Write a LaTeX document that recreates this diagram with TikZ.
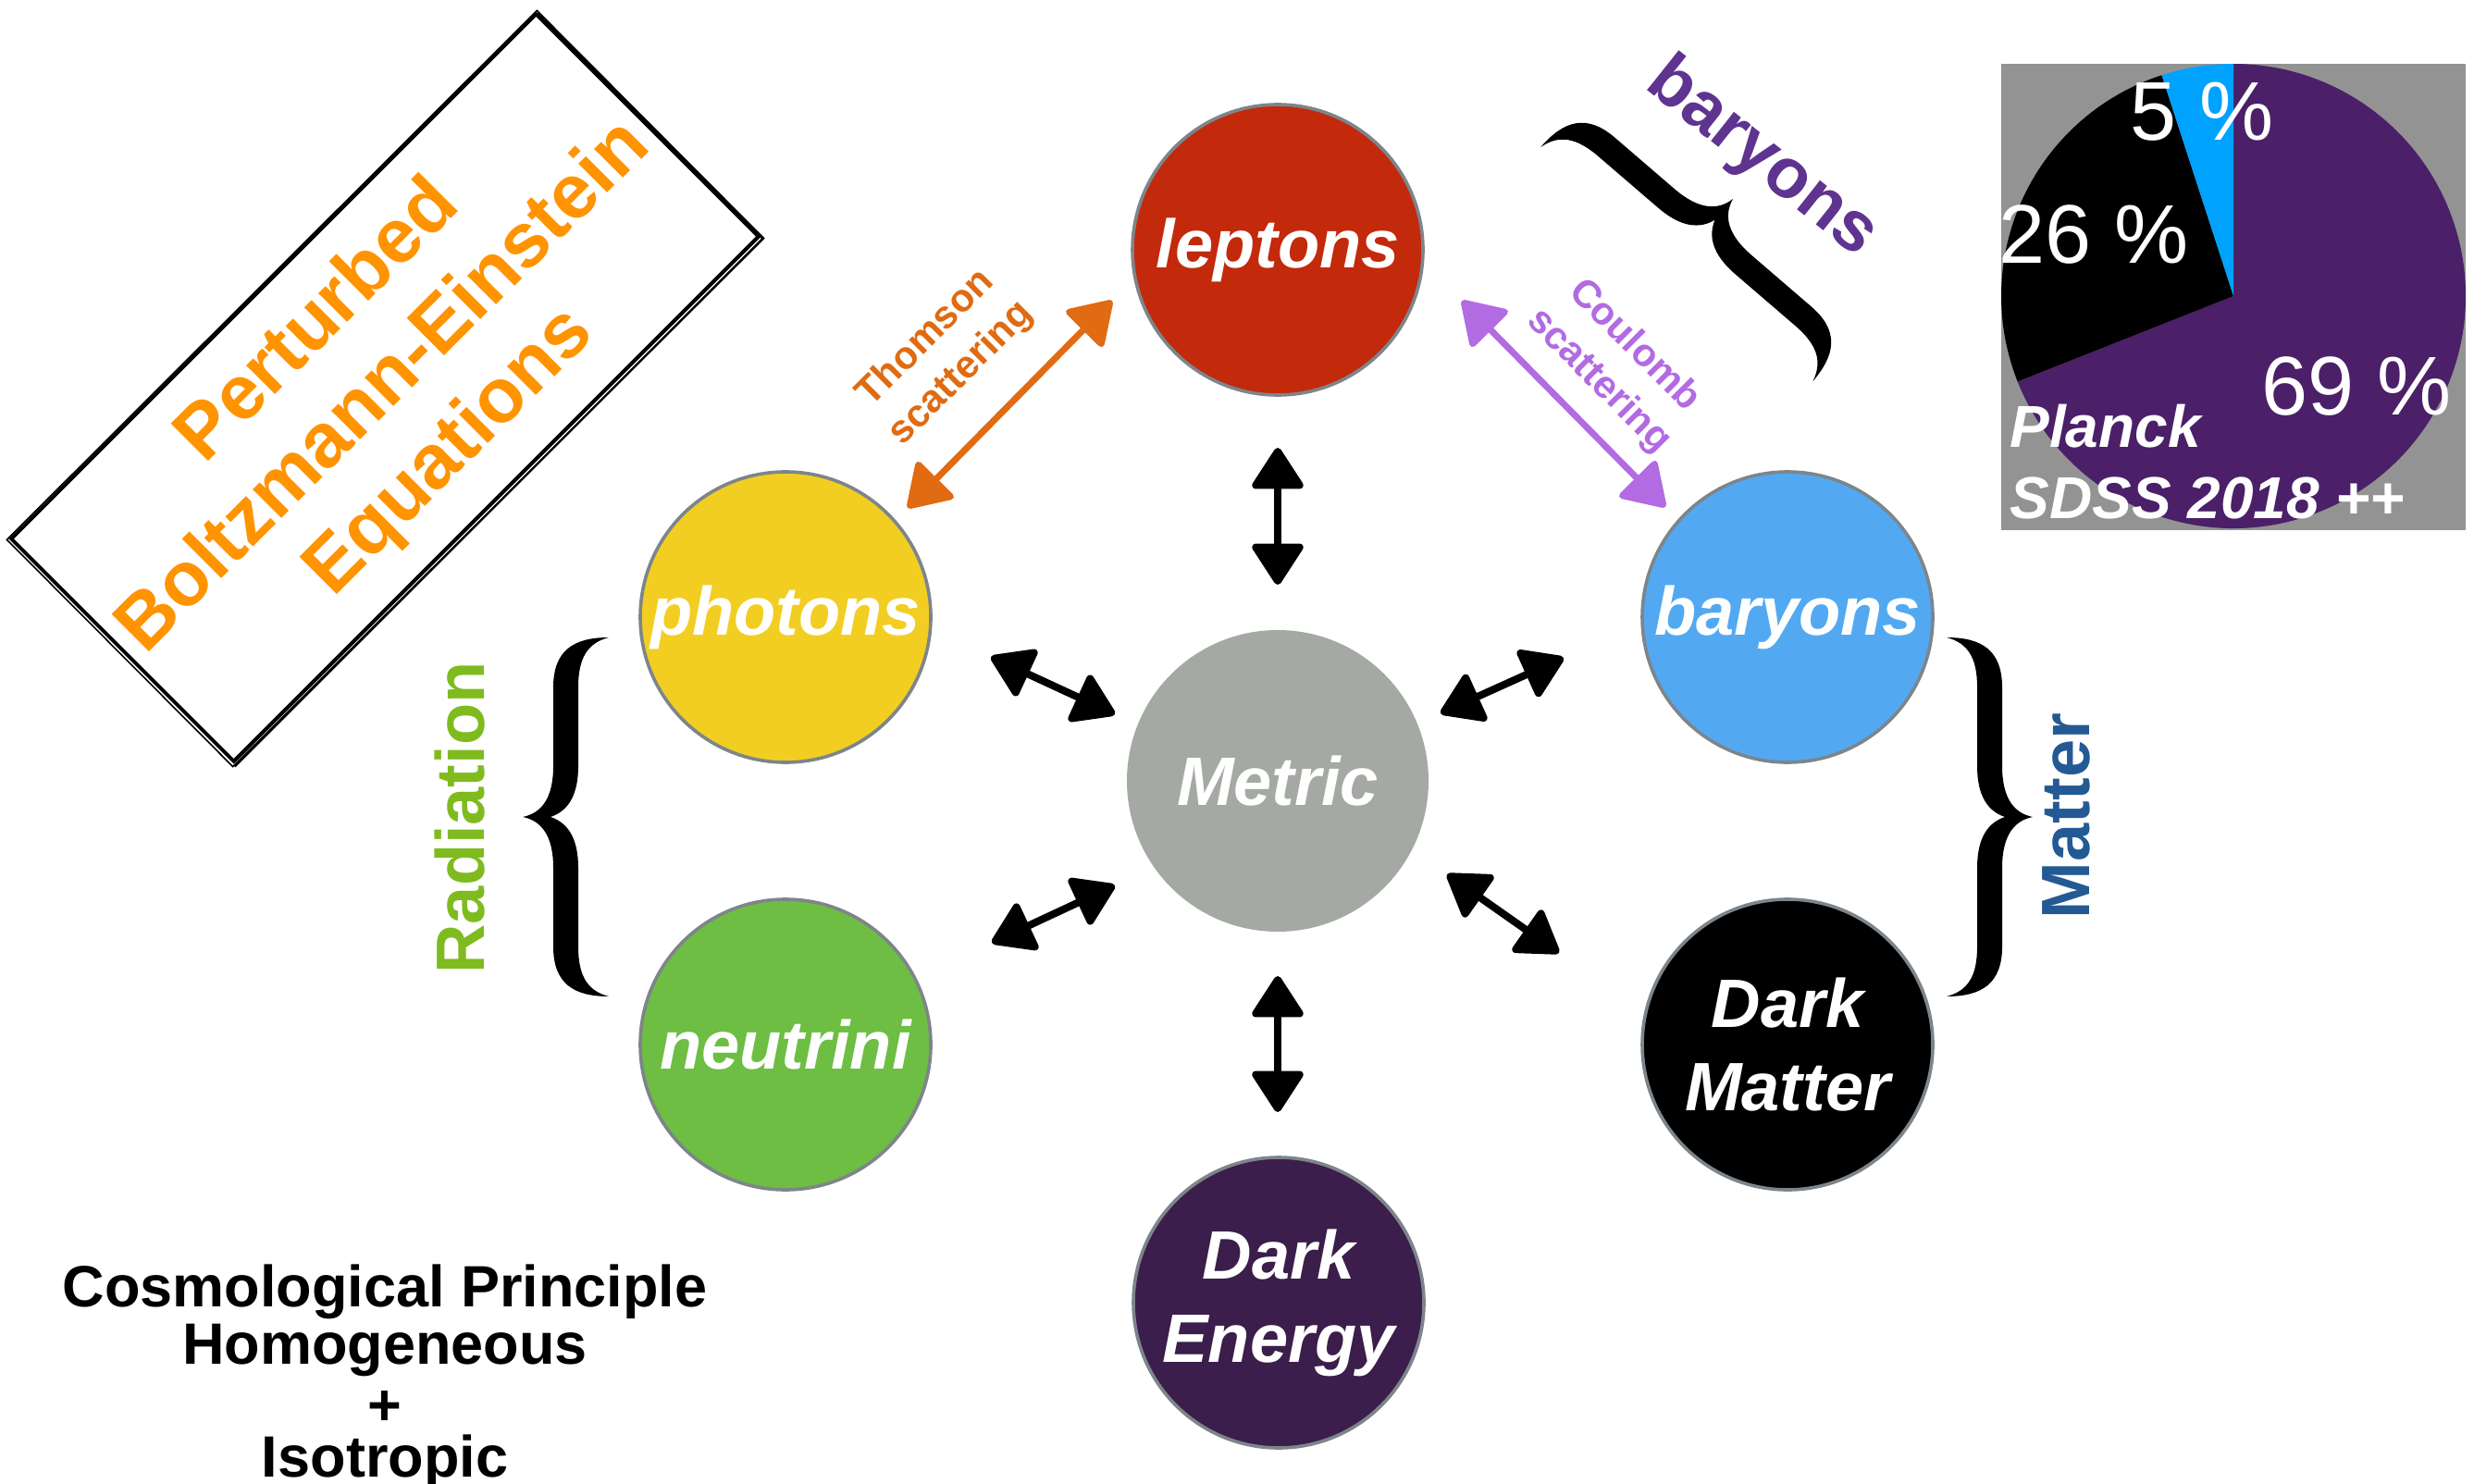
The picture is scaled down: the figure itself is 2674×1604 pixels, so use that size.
\documentclass[tikz,border=0pt]{standalone}
\usepackage{fontspec}
\setmainfont{Liberation Sans}
\usetikzlibrary{arrows.meta}
\definecolor{leptonred}{HTML}{C3290B}
\definecolor{photonyellow}{HTML}{F2CE22}
\definecolor{baryonblue}{HTML}{52A9F2}
\definecolor{metricgray}{HTML}{A5A9A4}
\definecolor{neutrigreen}{HTML}{6DBE43}
\definecolor{darkenergy}{HTML}{3B1E4B}
\definecolor{ballborder}{HTML}{7D858B}
\definecolor{thomsonorange}{HTML}{E06B12}
\definecolor{coulombpurple}{HTML}{B26BE2}
\definecolor{baryonpurple}{HTML}{5E3490}
\definecolor{radgreen}{HTML}{7FBB1F}
\definecolor{matterblue}{HTML}{235A94}
\definecolor{boxorange}{HTML}{FF9300}
\definecolor{piegray}{HTML}{939393}
\definecolor{pieblue}{HTML}{00A2FF}
\definecolor{piepurple}{HTML}{4B2068}
\tikzset{
  ball/.style={circle, minimum size=157pt, inner sep=0pt, draw=ballborder, line width=1.8pt,
    text=white, align=center, font=\fontsize{37}{45}\selectfont\bfseries\itshape},
  dblarrow/.style={line width=4pt, line join=round,
    {Triangle[length=24pt,width=30pt,round]}-{Triangle[length=24pt,width=30pt,round]}},
  pctext/.style={text=white, inner sep=0pt, font=\fontsize{45}{54}\selectfont},
  pcbold/.style={text=white, inner sep=0pt, font=\fontsize{32}{38}\selectfont\bfseries\itshape},
  cptext/.style={inner sep=0pt, font=\fontsize{31.5}{31.5}\selectfont\bfseries},
  bigbrace/.pic={
    \fill (93,-194) .. controls (55,-194) and (33,-180) .. (33,-140) -- (33,-55)
      .. controls (33,-20) and (20,-4) .. (0,0)
      .. controls (20,4) and (33,20) .. (33,55) -- (33,140)
      .. controls (33,180) and (55,194) .. (93,194)
      .. controls (70,188) and (60,172) .. (60,140) -- (60,55)
      .. controls (60,22) and (48,6) .. (30,0)
      .. controls (48,-6) and (60,-22) .. (60,-55) -- (60,-140)
      .. controls (60,-172) and (70,-188) .. (93,-194) -- cycle;
  }
}
\begin{document}
\begin{tikzpicture}[x=0.5pt,y=-0.5pt]
\useasboundingbox (0,0) rectangle (2674,1604);
\fill[white] (0,0) rectangle (2674,1604);

% Perturbed Boltzmann-Einstein box
\node[draw=black, line width=2pt, rotate=45, minimum width=401pt, minimum height=170pt,
  inner sep=0pt, align=center, text=boxorange, font=\fontsize{41.5}{50}\selectfont\bfseries]
  (pbe) at (416,419) {Perturbed\\Boltzmann-Einstein\\Equations};
\draw[line width=0.8pt] ([shift={(-2,1)}]pbe.north west) -- ([shift={(1,-1)}]pbe.north east)
  -- ([shift={(3,2)}]pbe.south east) -- ([shift={(-1,3)}]pbe.south west) -- cycle;
\draw[line width=1.2pt] ([shift={(2,2)}]pbe.north east) -- ([shift={(2,2)}]pbe.south east)
  -- ([shift={(1,3)}]pbe.south west);

% circles
\node[ball, fill=leptonred] (leptons) at (1381,270) {leptons};
\node[ball, fill=photonyellow] (photons) at (849,667) {photons};
\node[ball, fill=baryonblue] (baryons) at (1932,667) {baryons};
\node[ball, fill=metricgray, draw=none, minimum size=163pt] (metric) at (1381,844) {Metric};
\node[ball, fill=neutrigreen] (neutrini) at (849,1129) {neutrini};
\node[ball, fill=black] (darkmatter) at (1932,1129) {Dark\\Matter};
\node[ball, fill=darkenergy] (darkenergy) at (1382,1408) {Dark\\Energy};

% arrow end points
\coordinate (aT1) at (1381,484);  \coordinate (aT2) at (1381,632);
\coordinate (aUL1) at (1071,710); \coordinate (aUL2) at (1205,772);
\coordinate (aUR1) at (1557,771); \coordinate (aUR2) at (1690,711);
\coordinate (aLL1) at (1072,1019); \coordinate (aLL2) at (1205,957);
\coordinate (aLR1) at (1564,945); \coordinate (aLR2) at (1685,1030);
\coordinate (aB1) at (1381,1055); \coordinate (aB2) at (1381,1202);
\coordinate (th1) at (981,549);   \coordinate (th2) at (1202,325);
\coordinate (co1) at (1580,325);  \coordinate (co2) at (1800,548);

\draw[dblarrow] (aT1) -- (aT2);
\draw[dblarrow] (aUL1) -- (aUL2);
\draw[dblarrow] (aUR1) -- (aUR2);
\draw[dblarrow] (aLL1) -- (aLL2);
\draw[dblarrow] (aLR1) -- (aLR2);
\draw[dblarrow] (aB1) -- (aB2);
\draw[dblarrow, line width=3.5pt, draw=thomsonorange, fill=thomsonorange] (th1) -- (th2);
\draw[dblarrow, line width=3.5pt, draw=coulombpurple, fill=coulombpurple] (co1) -- (co2);

% scattering labels
\node[rotate=45, text=thomsonorange, align=center, inner sep=0pt,
  font=\fontsize{21}{27}\selectfont\bfseries] (thomson) at (1020,385) {Thomson\\scattering};
\node[rotate=-45, text=coulombpurple, align=center, inner sep=0pt,
  font=\fontsize{21}{27}\selectfont\bfseries] (coulomb) at (1747,393) {Coulomb\\scattering};

% braces and their labels
\pic at (565,883) {bigbrace};
\pic[rotate=180] at (2197,883) {bigbrace};
\pic[rotate=-130.7] at (1873,215) {bigbrace};
\node[rotate=90, text=radgreen, inner sep=0pt, font=\fontsize{37}{44}\selectfont\bfseries]
  (radiation) at (497,884) {Radiation};
\node[rotate=90, text=matterblue, inner sep=0pt, font=\fontsize{37}{44}\selectfont\bfseries]
  (matter) at (2233,882) {Matter};
\node[rotate=-38.5, text=baryonpurple, inner sep=0pt, font=\fontsize{38}{45}\selectfont\bfseries]
  (baryonlbl) at (1904,171) {baryons};

% pie chart
\fill[piegray] (2163,69) rectangle (2665,573);
\coordinate (pc) at (2414,320);
\fill[piepurple] (pc) -- +(201.6:125.5pt) arc[start angle=201.6, end angle=450, radius=125.5pt] -- cycle;
\fill[black] (pc) -- +(108:125.5pt) arc[start angle=108, end angle=201.6, radius=125.5pt] -- cycle;
\fill[pieblue] (pc) -- +(90:125.5pt) arc[start angle=90, end angle=108, radius=125.5pt] -- cycle;
\begin{scope}
\clip (2163,69) rectangle (2665,573);
\node[pctext, anchor=base west] (p5) at (2302,152) {5 \%};
\node[pctext, anchor=base west] (p26) at (2160,285) {26 \%};
\node[pctext, anchor=base west] (p69) at (2444,449) {69 \%};
\node[pcbold, anchor=base west] (planck) at (2172,483) {Planck};
\node[pcbold, anchor=base west] (sdss) at (2172,560) {SDSS 2018 ++};
\end{scope}

% cosmological principle
\node[cptext, anchor=base] (cp1) at (416,1412) {Cosmological Principle};
\node[cptext, anchor=base] (cp2) at (416,1474) {Homogeneous};
\node[cptext, anchor=base] (cp3) at (416,1540) {+};
\node[cptext, anchor=base] (cp4) at (416,1596) {Isotropic};
\end{tikzpicture}
\end{document}
